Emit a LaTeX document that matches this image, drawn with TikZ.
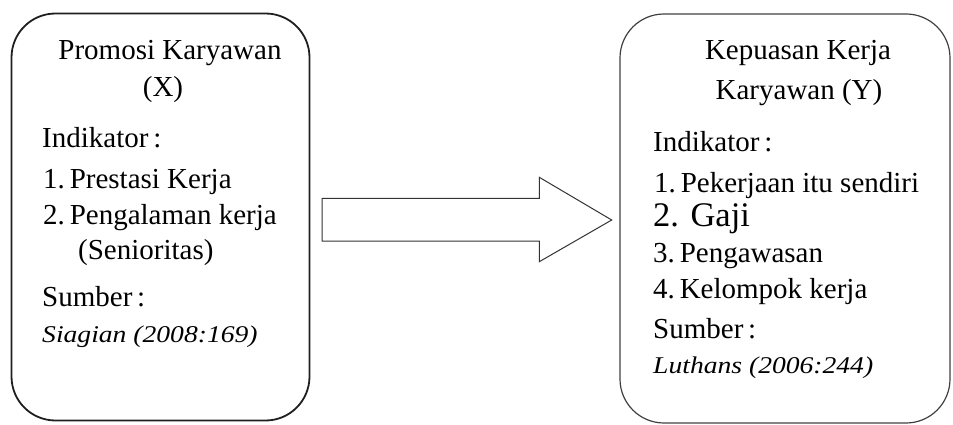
\documentclass[tikz,border=0pt]{standalone}
\usepackage{fontspec}
\setmainfont{Liberation Serif}
\newfontfamily\srcfont{Liberation Serif}[FakeStretch=1.15]
\begin{document}
\begin{tikzpicture}[x=1pt,y=-1pt,
  txt/.style={inner sep=0pt, anchor=base west, font=\fontsize{29}{34}\selectfont},
  ctxt/.style={txt, anchor=base},
  big/.style={inner sep=0pt, anchor=base west, font=\fontsize{34.5}{40}\selectfont},
  src/.style={inner sep=0pt, anchor=base west, font=\srcfont\itshape\fontsize{24}{28}\selectfont},
  boxstyle/.style={draw, rounded corners=44pt, inner sep=0pt}]
\useasboundingbox (0,0) rectangle (953,425);
% boxes
\node[boxstyle, draw=black!88, line width=1.8pt, minimum width=298pt, minimum height=407pt] (boxX) at (160.5,217) {};
\node[boxstyle, draw=black!75, line width=1.2pt, minimum width=330pt, minimum height=409pt] (boxY) at (785,218.5) {};
% arrow
\coordinate (a1) at (322,198.3);
\coordinate (a2) at (539.3,198.3);
\coordinate (a3) at (539.3,177.3);
\coordinate (tip) at (611.7,220);
\coordinate (a5) at (539.3,261.7);
\coordinate (a6) at (539.3,241);
\coordinate (a7) at (322,241);
\draw[draw=black!80, line width=1pt, line join=miter] (a1) -- (a2) -- (a3) -- (tip) -- (a5) -- (a6) -- (a7) -- cycle;
% left texts
\node[ctxt] (x1) at (170,60) {Promosi Karyawan};
\node[ctxt] (x2) at (163,97) {(X)};
\node[txt] (x3) at (42,148) {Indikator\,:};
\node[txt] (x4) at (43,188) {1.\,Prestasi Kerja};
\node[txt] (x5) at (43,224) {2.\,Pengalaman kerja};
\node[txt] (x6) at (78,259) {(Senioritas)};
\node[txt] (x7) at (42,306) {Sumber\,:};
\node[src] (x8) at (42,342) {Siagian (2008:169)};
% right texts
\node[ctxt] (y1) at (798,60) {Kepuasan Kerja};
\node[ctxt] (y2) at (799,100) {Karyawan (Y)};
\node[txt] (y3) at (653,152) {Indikator\,:};
\node[txt] (y4) at (654,192) {1.\,Pekerjaan itu sendiri};
\node[big] (y5) at (653,226) {2. Gaji};
\node[txt] (y6) at (653,262) {3.\,Pengawasan};
\node[txt] (y7) at (653,298) {4.\,Kelompok kerja};
\node[txt] (y8) at (653,338) {Sumber\,:};
\node[src] (y9) at (653,373) {Luthans (2006:244)};
\end{tikzpicture}
\end{document}
